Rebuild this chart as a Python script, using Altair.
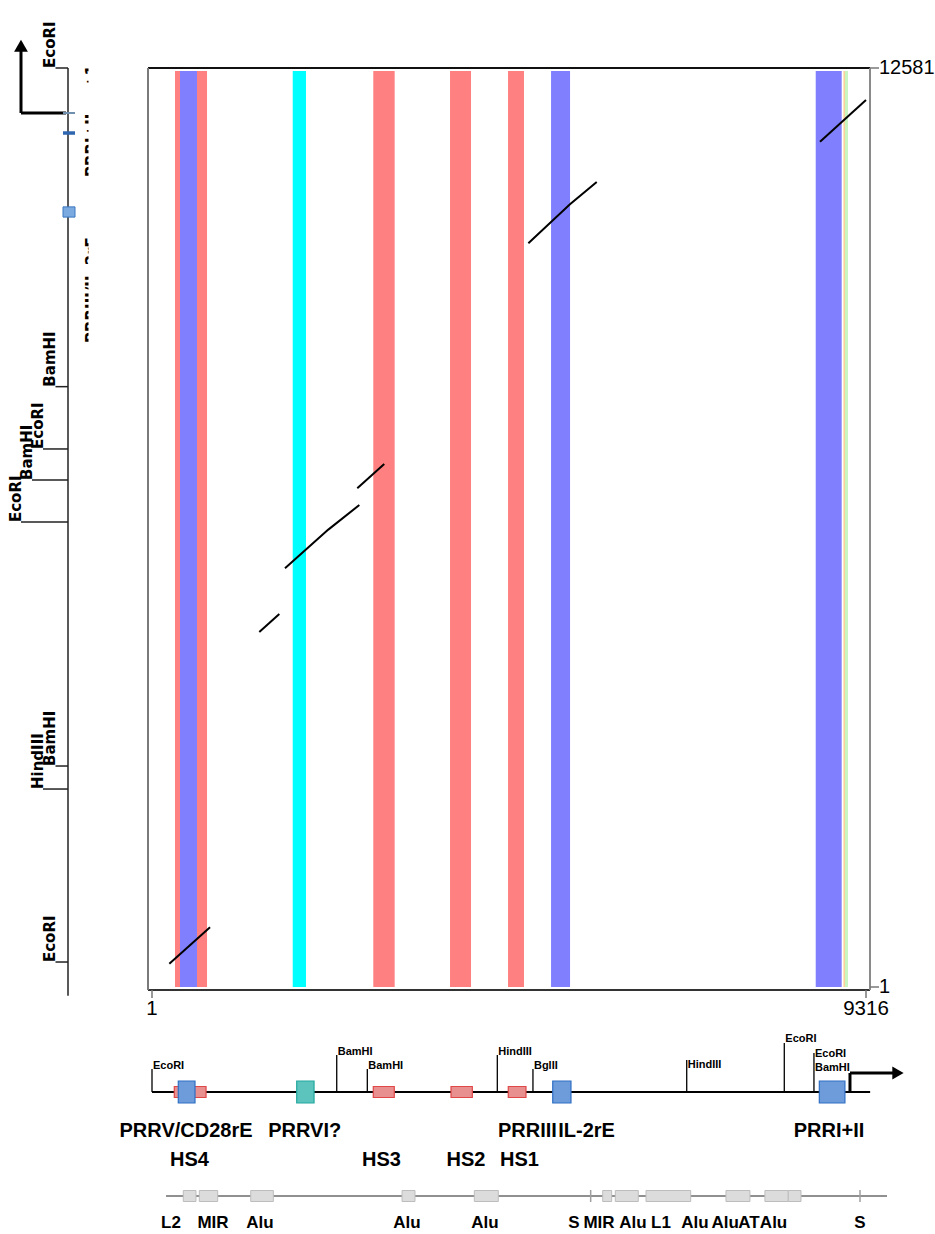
import altair as alt
import pandas as pd

W, H = 935, 1234
FONT = "Liberation Sans"

# ---------------- sequence extents (bp) ----------------
X_LEN, Y_LEN = 9316, 12581
x_tick_values = [1, X_LEN]
y_tick_values = [1, Y_LEN]

# conserved blocks along the horizontal sequence
band_start = [301, 366, 1837, 2888, 3889, 4646, 5207, 8660, 9022, 9041]
band_end = [719, 588, 2010, 3167, 4163, 4854, 5455, 8999, 9041, 9081]
band_class = ["hs", "prr", "prrvi", "hs", "hs", "hs", "prr", "prr", "utr", "exon"]
band_top = 12540

# dot-plot alignment segments: (horizontal bp, vertical bp)
seg_id = [1, 1, 2, 2, 3, 3, 3, 4, 4, 5, 5, 5, 6, 6]
seg_x = [227, 758, 1401, 1662, 1736, 2301, 2706, 2679, 3031, 4911, 5454, 5803, 8716, 9316]
seg_y = [320, 818, 4861, 5107, 5733, 6262, 6599, 6828, 7161, 10182, 10715, 11021, 11573, 12144]

# vertical sequence map (left)
v_extent = [-120, 12581]
v_site_name = ["EcoRI", "BamHI", "EcoRI", "BamHI", "EcoRI", "BamHI", "HindIII", "EcoRI"]
v_site_pos = [12581, 8219, 7366, 6941, 6366, 3026, 2711, 343]
v_site_tier = [0, 0, 1, 2, 3, 0, 1, 0]
v_tss = 11965
v_arrow_top = 12869
v_arrow_head = 12885
v_prr_dash = 11691
v_prr_box = [10540, 10680]
v_feat_label = ["+1", "PRRI+II", "PRRIII/IL-2rE"]
v_feat_label_pos = [12307, 11089, 8817]

# horizontal sequence map (bottom)
h_extent = [1, 9370]
h_site_pos = [1, 2411, 2810, 4506, 4971, 6977, 8250, 8637]
h_site_label = ["EcoRI", "BamHI", "BamHI", "HindIII", "BglII", "HindIII", "EcoRI", "EcoRI", "BamHI"]
h_site_label_pos = [1, 2411, 2810, 4506, 4971, 6977, 8250, 8637, 8637]
h_tss = 9107
h_arrow_end = 9668
h_arrow_head = 9733

elem_name = ["PRRV", "HS4", "PRRVI", "HS3", "HS2", "HS1", "PRRIII", "PRRI+II"]
elem_start = [292, 344, 1889, 2888, 3902, 4649, 5229, 8707]
elem_end = [706, 562, 2115, 3162, 4180, 4880, 5467, 9041]
elem_class = ["hs", "prr", "prrvi", "hs", "hs", "hs", "prr", "prr"]

name_row1 = ["PRRV/CD28rE", "PRRVI?", "PRRIII", "IL-2rE", "PRRI+II"]
name_row1_pos = [445, 1993, 4898, 5671, 8833]
name_row2 = ["HS4", "HS3", "HS2", "HS1"]
name_row2_pos = [490, 2995, 4097, 4796]

# repeat elements track
rep_extent = [184, 9590]
rep_name = ["L2", "MIR", "Alu", "Alu", "Alu", "MIR", "Alu", "L1", "Alu", "Alu", "AT"]
rep_start = [409, 618, 1289, 3263, 4206, 5881, 6045, 6446, 7489, 7997, 8302]
rep_end = [575, 858, 1584, 3432, 4519, 5998, 6345, 7029, 7802, 8302, 8468]
simple_rep_pos = [5724, 9238]
rep_label = ["L2", "MIR", "Alu", "Alu", "Alu", "S", "MIR", "Alu", "L1", "Alu", "Alu", "AT", "Alu", "S"]
rep_label_pos = [249, 797, 1410, 3328, 4345, 5506, 5833, 6276, 6641, 7085, 7480, 7790, 8110, 9238]

# ---------------- layout ----------------
X_RANGE = [152, 866]
Y_RANGE = [987, 68]
FRAME_L, FRAME_R, FRAME_T, FRAME_B = 148, 870, 68, 990
V_AXIS_X = 68
V_TIER_LEFT = [55.5, 43, 32, 21]
BACKBONE_Y = 1092
h_stem_top = [1069, 1055, 1069, 1055, 1069, 1060, 1043, 1053]
h_label_base = [1069, 1055, 1069, 1055, 1069, 1068, 1042, 1057, 1071]
REP_Y = 1196

XS = alt.Scale(domain=[1, X_LEN], range=X_RANGE, nice=False, zero=False)
YS = alt.Scale(domain=[1, Y_LEN], range=Y_RANGE, nice=False, zero=False)
IDY = alt.Scale(domain=[0, H], range=[0, H], nice=False, zero=False)

CLASS_DOMAIN = ["hs", "prr", "prrvi", "utr", "exon"]
BAND_COLORS = ["#FF8080", "#8080FF", "#00FFFF", "#FFC890", "#C8F5C0"]
BOX_FILL = ["#E89090", "#6E9CDB", "#5CC4BC", "#FFC890", "#C8F5C0"]
BOX_STROKE = ["#E04848", "#2F6FC4", "#22A89E", "#FFC890", "#C8F5C0"]


def qx(f):
    return alt.X(f"{f}:Q", scale=XS, axis=None)


def qy(f):
    return alt.Y(f"{f}:Q", scale=YS, axis=None)


one = pd.DataFrame({"k": [0]})
layers = []

# ---------------- dot plot ----------------
bands = pd.DataFrame({"start": band_start, "end": band_end, "cls": band_class})
bands["lo"] = 1
bands["hi"] = band_top
layers.append(
    alt.Chart(bands).mark_rect().encode(
        x=qx("start"), x2="end", y=qy("lo"), y2="hi",
        color=alt.Color("cls:N", scale=alt.Scale(domain=CLASS_DOMAIN, range=BAND_COLORS), legend=None),
    )
)

# frame
for (x1, x2, y1, y2, c) in [
    (FRAME_L, FRAME_R, FRAME_T, FRAME_T, "#111111"),
    (FRAME_L, FRAME_R, FRAME_B, FRAME_B, "#333333"),
    (FRAME_L, FRAME_L, FRAME_T, FRAME_B, "#7a7a7a"),
    (FRAME_R, FRAME_R, FRAME_T, FRAME_B, "#8a8a8a"),
]:
    layers.append(
        alt.Chart(one).mark_rule(color=c, strokeWidth=2).encode(
            x=alt.value(x1), x2=alt.value(x2), y=alt.value(y1), y2=alt.value(y2)
        )
    )

segs = pd.DataFrame({"seg": seg_id, "hx": seg_x, "vy": seg_y})
layers.append(
    alt.Chart(segs).mark_line(color="black", strokeWidth=2).encode(
        x=qx("hx"), y=qy("vy"), detail="seg:N"
    )
)

# axis ticks and labels
xt = pd.DataFrame({"v": x_tick_values, "t": [str(v) for v in x_tick_values]})
yt = pd.DataFrame({"v": y_tick_values, "t": [str(v) for v in y_tick_values]})
layers.append(
    alt.Chart(xt).mark_rule(color="#777777", strokeWidth=1.5).encode(
        x=qx("v"), y=alt.value(FRAME_B), y2=alt.value(FRAME_B + 8)
    )
)
layers.append(
    alt.Chart(xt).mark_text(font=FONT, fontSize=20.5, baseline="alphabetic", color="black").encode(
        x=qx("v"), y=alt.value(1015), text="t:N"
    )
)
layers.append(
    alt.Chart(yt).mark_rule(color="#777777", strokeWidth=1.5).encode(
        y=qy("v"), x=alt.value(FRAME_R), x2=alt.value(FRAME_R + 9)
    )
)
layers.append(
    alt.Chart(yt).mark_text(font=FONT, fontSize=20, align="left", baseline="middle", color="black").encode(
        y=qy("v"), x=alt.value(879), text="t:N"
    )
)

# ---------------- vertical sequence map ----------------
vext = pd.DataFrame({"a": [v_extent[0]], "b": [v_extent[1]]})
layers.append(
    alt.Chart(vext).mark_rule(color="#222222", strokeWidth=1.5).encode(
        x=alt.value(V_AXIS_X), y=qy("a"), y2="b"
    )
)
vsites = pd.DataFrame({"name": v_site_name, "pos": v_site_pos, "tier": v_site_tier})
for tier, left in enumerate(V_TIER_LEFT):
    sub = vsites[vsites["tier"] == tier]
    layers.append(
        alt.Chart(sub).mark_rule(color="#222222", strokeWidth=1.5).encode(
            x=alt.value(left), x2=alt.value(V_AXIS_X), y=qy("pos")
        )
    )
    layers.append(
        alt.Chart(sub).mark_text(
            font="DejaVu Sans", fontWeight="bold", fontSize=15, angle=270,
            align="left", baseline="middle", color="black"
        ).encode(x=alt.value(left - 5.5), y=qy("pos"), text="name:N")
    )

# transcription start arrow
tss = pd.DataFrame({"p": [v_tss], "top": [v_arrow_top], "head": [v_arrow_head]})
layers.append(
    alt.Chart(tss).mark_rule(color="black", strokeWidth=3).encode(
        x=alt.value(21), x2=alt.value(66), y=qy("p")
    )
)
layers.append(
    alt.Chart(tss).mark_rule(color="black", strokeWidth=3).encode(
        x=alt.value(21), y=qy("p"), y2="top"
    )
)
layers.append(
    alt.Chart(tss).mark_point(shape="triangle-up", filled=True, size=190, color="black", opacity=1).encode(
        x=alt.value(21), y=qy("head")
    )
)
layers.append(
    alt.Chart(tss).mark_rule(color="#6f8faf", strokeWidth=2).encode(
        x=alt.value(63), x2=alt.value(75), y=qy("p")
    )
)
dash = pd.DataFrame({"p": [v_prr_dash]})
layers.append(
    alt.Chart(dash).mark_rule(color="#2f66b0", strokeWidth=3.5).encode(
        x=alt.value(63), x2=alt.value(75), y=qy("p")
    )
)
vbox = pd.DataFrame({"a": [v_prr_box[0]], "b": [v_prr_box[1]]})
layers.append(
    alt.Chart(vbox).mark_rect(fill="#7AAAE0", stroke="#3C78C0", strokeWidth=1).encode(
        x=alt.value(63), x2=alt.value(75), y=qy("a"), y2="b"
    )
)

# element names beside the vertical map (cut off at the plot edge)
vlab = pd.DataFrame({"t": v_feat_label, "p": v_feat_label_pos})
layers.append(
    alt.Chart(vlab).mark_text(
        font="DejaVu Sans", fontWeight="bold", fontSize=15, angle=270,
        align="left", baseline="middle", color="black"
    ).encode(x=alt.value(91.5), y=qy("p"), text="t:N")
)
layers.append(
    alt.Chart(one).mark_rect(fill="white").encode(
        x=alt.value(88.5), x2=alt.value(146), y=alt.value(40), y2=alt.value(370)
    )
)

# ---------------- horizontal sequence map ----------------
hext = pd.DataFrame({"a": [h_extent[0]], "b": [h_extent[1]]})
layers.append(
    alt.Chart(hext).mark_rule(color="black", strokeWidth=2).encode(
        x=qx("a"), x2="b", y=alt.value(BACKBONE_Y)
    )
)
stems = pd.DataFrame({"pos": h_site_pos, "top": h_stem_top})
layers.append(
    alt.Chart(stems).mark_rule(color="black", strokeWidth=1.3).encode(
        x=qx("pos"), y=alt.Y("top:Q", scale=IDY, axis=None), y2=alt.value(BACKBONE_Y)
    )
)
slab = pd.DataFrame({"t": h_site_label, "pos": h_site_label_pos, "base": h_label_base})
layers.append(
    alt.Chart(slab).mark_text(
        font=FONT, fontWeight="bold", fontSize=11, align="left", baseline="alphabetic", dx=1, color="black"
    ).encode(x=qx("pos"), y=alt.Y("base:Q", scale=IDY, axis=None), text="t:N")
)

elems = pd.DataFrame({"name": elem_name, "start": elem_start, "end": elem_end, "cls": elem_class})
for classes, half in [(["hs"], 5.5), (["prr", "prrvi"], 11)]:
    sub = elems[elems["cls"].isin(classes)]
    layers.append(
        alt.Chart(sub).mark_rect(strokeWidth=1.2).encode(
            x=qx("start"), x2="end",
            y=alt.value(BACKBONE_Y - half), y2=alt.value(BACKBONE_Y + half),
            fill=alt.Fill("cls:N", scale=alt.Scale(domain=CLASS_DOMAIN, range=BOX_FILL), legend=None),
            stroke=alt.Stroke("cls:N", scale=alt.Scale(domain=CLASS_DOMAIN, range=BOX_STROKE), legend=None),
        )
    )

harrow = pd.DataFrame({"p": [h_tss], "e": [h_arrow_end], "head": [h_arrow_head]})
layers.append(
    alt.Chart(harrow).mark_rule(color="black", strokeWidth=3).encode(
        x=qx("p"), y=alt.value(BACKBONE_Y), y2=alt.value(1073)
    )
)
layers.append(
    alt.Chart(harrow).mark_rule(color="black", strokeWidth=3).encode(
        x=qx("p"), x2="e", y=alt.value(1073)
    )
)
layers.append(
    alt.Chart(harrow).mark_point(shape="triangle-right", filled=True, size=170, color="black", opacity=1).encode(
        x=qx("head"), y=alt.value(1073)
    )
)

r1 = pd.DataFrame({"t": name_row1, "pos": name_row1_pos})
layers.append(
    alt.Chart(r1).mark_text(font=FONT, fontWeight="bold", fontSize=20, baseline="alphabetic", color="black").encode(
        x=qx("pos"), y=alt.value(1137), text="t:N"
    )
)
r2 = pd.DataFrame({"t": name_row2, "pos": name_row2_pos})
layers.append(
    alt.Chart(r2).mark_text(font=FONT, fontWeight="bold", fontSize=20, baseline="alphabetic", color="black").encode(
        x=qx("pos"), y=alt.value(1166), text="t:N"
    )
)

# ---------------- repeats track ----------------
rext = pd.DataFrame({"a": [rep_extent[0]], "b": [rep_extent[1]]})
layers.append(
    alt.Chart(rext).mark_rule(color="#222222", strokeWidth=1.2).encode(
        x=qx("a"), x2="b", y=alt.value(REP_Y)
    )
)
reps = pd.DataFrame({"name": rep_name, "start": rep_start, "end": rep_end})
layers.append(
    alt.Chart(reps).mark_rect(fill="#DCDCDC", stroke="#BDBDBD", strokeWidth=1).encode(
        x=qx("start"), x2="end", y=alt.value(REP_Y - 5.5), y2=alt.value(REP_Y + 5.5)
    )
)
srep = pd.DataFrame({"p": simple_rep_pos})
layers.append(
    alt.Chart(srep).mark_rule(color="#A0A0A0", strokeWidth=1.5).encode(
        x=qx("p"), y=alt.value(REP_Y - 6), y2=alt.value(REP_Y + 6)
    )
)
rlab = pd.DataFrame({"t": rep_label, "pos": rep_label_pos})
layers.append(
    alt.Chart(rlab).mark_text(font=FONT, fontWeight="bold", fontSize=17, baseline="alphabetic", color="black").encode(
        x=qx("pos"), y=alt.value(1228), text="t:N"
    )
)

chart = (
    alt.layer(*layers)
    .resolve_scale(x="independent", y="independent", color="independent", fill="independent", stroke="independent")
    .properties(width=W, height=H, padding=0, autosize=alt.AutoSizeParams(type="none"), background="white")
    .configure_view(stroke=None)
)

chart.save("out.html", embed_options={"renderer": "svg", "actions": False})
